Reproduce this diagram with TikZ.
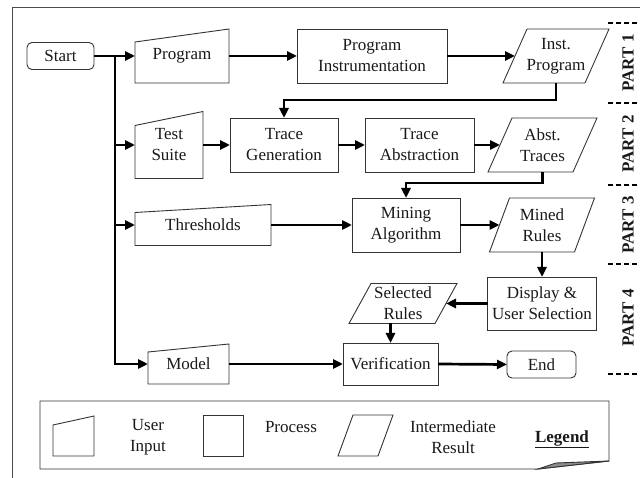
\documentclass[tikz,border=0pt]{standalone}
\usepackage{fontspec}
\setmainfont{Liberation Serif}
\usetikzlibrary{arrows.meta,calc}
\newcommand\fsz{\fontsize{17}{21}\selectfont}
\newcommand\inpshape[2]{\draw[outl] (#1.south west) -- (#1.south east) -- (#1.north east) -- ([yshift=-#2pt]#1.north west) -- cycle;}
\newcommand\resshape[2]{\draw[outl] ([xshift=-#2pt]#1.south west) -- ([xshift=-#2pt]#1.south east) -- ([xshift=#2pt]#1.north east) -- ([xshift=#2pt]#1.north west) -- cycle;}
\begin{document}
\begin{tikzpicture}[x=1pt,y=-1pt,
  txt/.style={font=\fsz, align=center, inner sep=0pt, outer sep=0pt, text=black!90},
  proc/.style={txt, draw=black!80, line width=0.9pt},
  term/.style={proc, rounded corners=5pt},
  plain/.style={txt},
  outl/.style={draw=black!80, line width=0.9pt},
  conn/.style={line width=2.7pt, -{Triangle[length=10pt,width=9pt]}},
  sep/.style={line width=1.6pt, dash pattern=on 5pt off 3pt},
  part/.style={font=\fsz\bfseries, rotate=90, inner sep=1.5pt, text=black!90},
]
\useasboundingbox (0,0) rectangle (640,478);
% outer frame
\draw[black!70, line width=1pt] (12,478) -- (12,8) -- (640,8);

% nodes
\node[term, minimum width=67pt, minimum height=27pt] (start) at (60.5,56) {Start};
\node[plain, minimum width=94pt, minimum height=54pt] (prog) at (182,56) {Program};
\node[proc, minimum width=150pt, minimum height=54pt] (pinstr) at (372,56) {Program\\Instrumentation};
\node[plain, minimum width=82pt, minimum height=54pt] (iprog) at (556,56) {Inst.\\Program};
\node[plain, minimum width=68pt, minimum height=67pt] (tsuite) at (169,145) {Test\\Suite};
\node[proc, minimum width=108pt, minimum height=54pt] (tgen) at (284,145) {Trace\\Generation};
\node[proc, minimum width=109pt, minimum height=54pt] (tabs) at (419.5,145) {Trace\\Abstraction};
\node[plain, minimum width=85pt, minimum height=54pt] (atr) at (542.5,145) {Abst.\\Traces};
\node[plain, minimum width=136pt, minimum height=41pt] (thr) at (203,225) {Thresholds};
\node[proc, minimum width=108pt, minimum height=54pt] (mine) at (406,225) {Mining\\Algorithm};
\node[plain, minimum width=85pt, minimum height=54pt] (mrul) at (542,225) {Mined\\Rules};
\node[proc, minimum width=109pt, minimum height=53pt] (disp) at (542,303.5) {Display \&\\User Selection};
\node[plain, minimum width=86pt, minimum height=40pt] (srul) at (403,303.5) {Selected\\Rules};
\node[proc, minimum width=95pt, minimum height=42pt] (verif) at (390.5,364) {Verification};
\node[plain, minimum width=81pt, minimum height=40pt] (model) at (188.5,364) {Model};
\node[term, minimum width=69pt, minimum height=27pt] (endn) at (541.5,364.5) {End};

% shape outlines
\inpshape{prog}{13}
\resshape{iprog}{12}
\inpshape{tsuite}{14}
\resshape{atr}{12}
\inpshape{thr}{8}
\resshape{mrul}{10}
\resshape{srul}{11}
\inpshape{model}{8}

% connectors
\coordinate (spine) at (115,56);
\draw[conn] (start.east) -- (prog.west);
\draw[conn] (spine) |- (model.west);
\draw[conn] (spine) |- (tsuite.west);
\draw[conn] (spine) |- (thr.west);
\draw[conn] (prog.east) -- (pinstr.west);
\draw[conn] (pinstr.east) -- (iprog.west);
\draw[conn] (iprog.south) -- ++(0,17) -| (tgen.north);
\draw[conn] (tsuite.east) -- (tgen.west);
\draw[conn] (tgen.east) -- (tabs.west);
\draw[conn] (tabs.east) -- (atr.west);
\draw[conn] (atr.south) -- ++(0,11) -| (mine.north);
\draw[conn] (thr.east) -- (mine.west);
\draw[conn] (mine.east) -- (mrul.west);
\draw[conn] (mrul.south) -- (disp.north);
\draw[conn] (disp.west) -- (srul.east);
\draw[conn] (srul.south -| verif.north) -- (verif.north);
\draw[conn] (model.east) -- (verif.west);
\draw[conn] (verif.east) -- (endn.west);

% legend
\node[minimum width=569pt, minimum height=68pt, inner sep=0pt, outer sep=0pt] (legend) at (324.5,435) {};
\draw[outl] (legend.north west) -- (legend.north east) -- ([yshift=8pt]legend.south east)
  -- ([xshift=-71pt]legend.south east) -- (legend.south west) -- cycle;
\draw[outl, fill=black!45] ([xshift=-71pt]legend.south east) -- ([xshift=-53pt,yshift=6pt]legend.south east)
  -- ([yshift=8pt]legend.south east) -- cycle;
\node[plain, minimum width=41pt, minimum height=40pt] (li) at (73.5,436) {};
\inpshape{li}{9}
\node[proc, minimum width=40pt, minimum height=41pt] (lp) at (223,435.5) {};
\node[plain, minimum width=40pt, minimum height=41pt] (lr) at (365.5,435.5) {};
\resshape{lr}{7.5}
\node[txt] (tui) at (148,437) {User\\Input};
\node[txt] (tpr) at (291,427) {Process};
\node[txt] (tir) at (453,437) {Intermediate\\Result};
\node[txt, font=\fsz\bfseries] (tleg) at (562,439) {\underline{Legend}};

% parts
\foreach \yy in {23,103,185,264,374} \draw[sep] (608,\yy) -- (640,\yy);
\node[part] (p1) at (628,63) {PART 1};
\node[part] (p2) at (628,144) {PART 2};
\node[part] (p3) at (628,225) {PART 3};
\node[part] (p4) at (628,318) {PART 4};
\end{tikzpicture}
\end{document}
